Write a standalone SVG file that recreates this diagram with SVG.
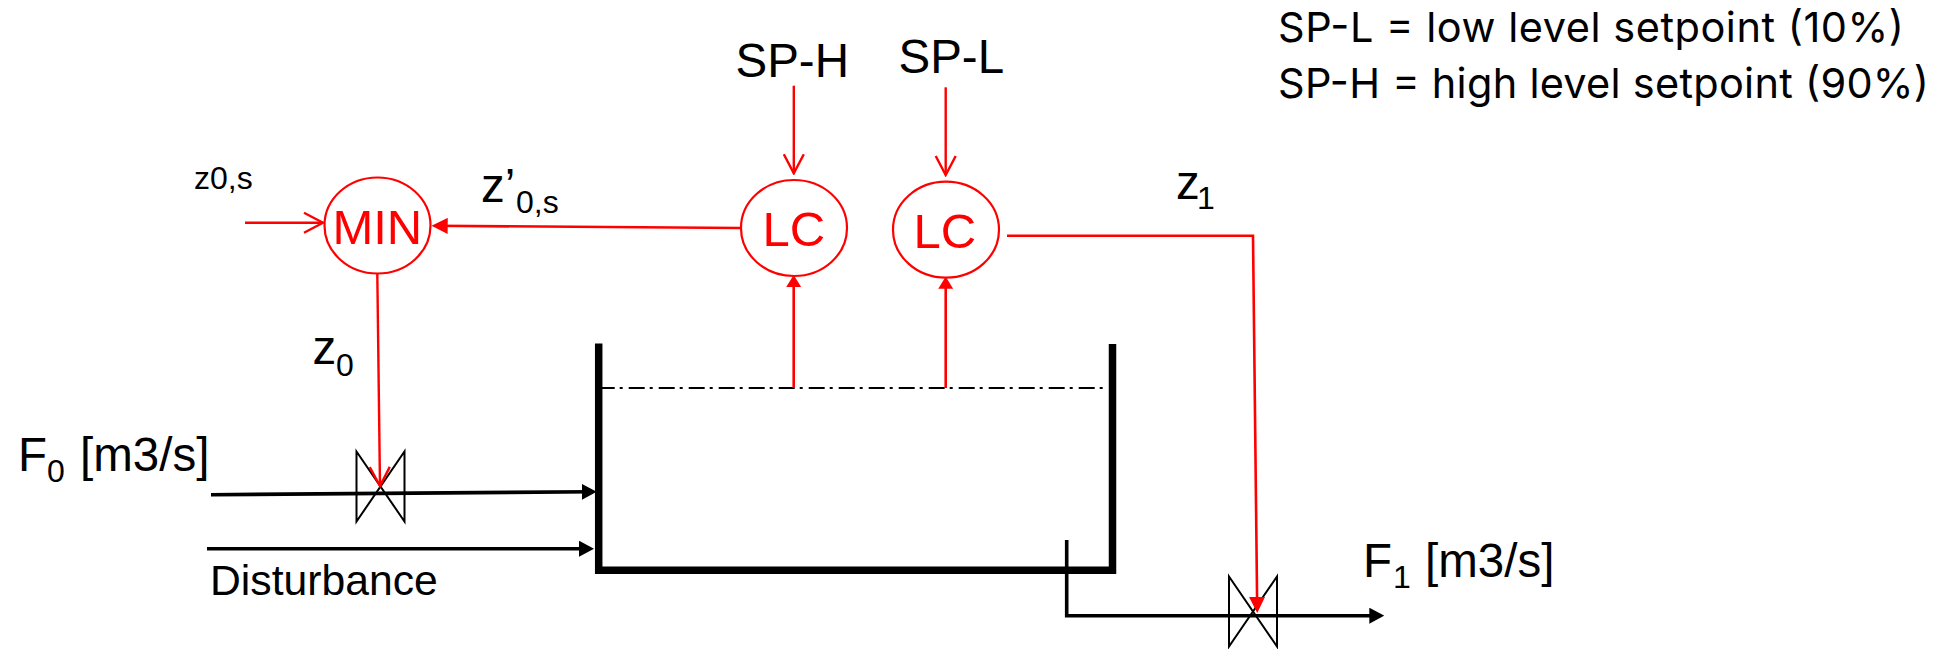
<svg xmlns="http://www.w3.org/2000/svg" width="1947" height="649" viewBox="0 0 1947 649">
<style>
text{font-family:"Liberation Sans",Arial,sans-serif;font-size:47.5px;fill:#000}
.r{fill:#f00;font-size:49px}
.sub{font-size:32px}
.ctl{fill:#fff;stroke:#f00;stroke-width:2.2}
.sig{fill:none;stroke:#f00;stroke-width:2.4}
.sig2{fill:none;stroke:#f00;stroke-width:2.6}
.pipe{fill:none;stroke:#000;stroke-width:3.6}
.wall{fill:none;stroke:#000;stroke-width:7.5}
.valve{fill:none;stroke:#000;stroke-width:2}
.note{font-family:Inter,"Noto Sans",sans-serif;font-size:41.5px}
</style>
<defs>
<marker id="rs" markerUnits="userSpaceOnUse" markerWidth="16" markerHeight="16" viewBox="0 0 16 16" refX="12" refY="8" orient="auto"><path d="M0 0L16 8L0 16Z" fill="#f00"/></marker>
<marker id="rt" markerUnits="userSpaceOnUse" markerWidth="12" markerHeight="15" viewBox="0 0 12 15" refX="9" refY="7.5" orient="auto"><path d="M0 0L12 7.5L0 15Z" fill="#f00"/></marker>
<marker id="ro" markerUnits="userSpaceOnUse" markerWidth="24" markerHeight="26" viewBox="0 0 24 26" refX="22" refY="13" orient="auto"><path d="M3 3L22 13L3 23" fill="none" stroke="#f00" stroke-width="2.4"/></marker>
<marker id="k" markerUnits="userSpaceOnUse" markerWidth="15" markerHeight="16" viewBox="0 0 15 16" refX="11" refY="8" orient="auto"><path d="M0 0L15 8L0 16Z" fill="#000"/></marker>
</defs>
<g id="tank">
<path class="wall" d="M598.7 343.5V570.3H1112.5V344"/>
<path d="M598.7 388H1108" fill="none" stroke="#000" stroke-width="2" stroke-dasharray="16 5 3 6"/>
</g>
<g id="valve-0"><path class="valve" d="M356.5 451.5L404.5 521.5V451.5L356.5 521.5Z"/></g>
<g id="valve-1"><path class="valve" d="M1229 576.5L1277 646.5V576.5L1229 646.5Z"/></g>
<g id="connectors">
<path class="pipe" d="M211 494.7L592.7 491.7" marker-end="url(#k)"/>
<path class="pipe" d="M207 548.7H590" marker-end="url(#k)"/>
<path class="pipe" d="M1066.7 540V615.7H1380.3" marker-end="url(#k)"/>
<path class="sig" d="M245 222.7H323" marker-end="url(#ro)"/>
<path class="sig2" d="M741 228L435.7 225.8" marker-end="url(#rs)"/>
<path class="sig" d="M377.3 273.5L380 486" marker-end="url(#ro)"/>
<path class="sig" d="M793.8 85.7V173.3" marker-end="url(#ro)"/>
<path class="sig" d="M945.7 87.3V175" marker-end="url(#ro)"/>
<path class="sig2" d="M793.7 388V278" marker-end="url(#rt)"/>
<path class="sig2" d="M945.7 388V279.7" marker-end="url(#rt)"/>
<path class="sig2" d="M1007 235.7H1253L1257.2 609" marker-end="url(#rs)"/>
</g>
<g id="min"><ellipse class="ctl" cx="377.5" cy="225.5" rx="53" ry="48"/><text class="r" x="332.4" y="244">MIN</text></g>
<g id="lc-h"><ellipse class="ctl" cx="794" cy="228" rx="53" ry="48"/><text class="r" x="762.4" y="245.7">LC</text></g>
<g id="lc-l"><ellipse class="ctl" cx="946" cy="229.7" rx="53" ry="48"/><text class="r" x="913.4" y="247.7">LC</text></g>
<g id="labels">
<text x="194" y="189.3" style="font-size:32px">z0,s</text>
<text x="481" y="201.7">z’<tspan class="sub" x="516" y="213.3">0,s</tspan></text>
<text x="312.5" y="364">z<tspan class="sub" x="336" y="376">0</tspan></text>
<text x="1176" y="199">z<tspan class="sub" x="1197" y="209">1</tspan></text>
<text x="735.5" y="77">SP-H</text>
<text x="898.5" y="72.7">SP-L</text>
<text x="18" y="470.7">F<tspan class="sub" x="47" y="482.3">0</tspan><tspan x="80" y="470.7">[m3/s]</tspan></text>
<text x="1363" y="577">F<tspan class="sub" x="1393" y="588">1</tspan><tspan x="1425" y="577">[m3/s]</tspan></text>
<text x="210" y="595" style="font-size:42.7px">Disturbance</text>
<text class="note" x="1278" y="41.5" textLength="626" lengthAdjust="spacing">SP-L = low level setpoint (10%)</text>
<text class="note" x="1278" y="98" textLength="651" lengthAdjust="spacing">SP-H = high level setpoint (90%)</text>
</g>
</svg>
